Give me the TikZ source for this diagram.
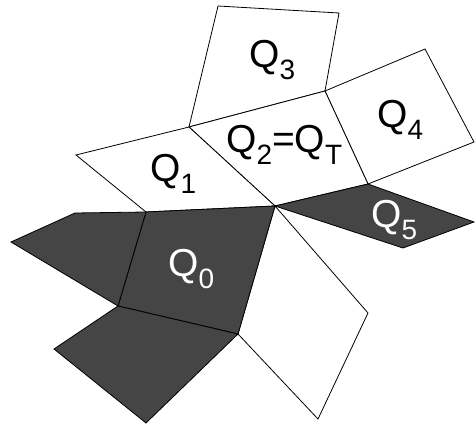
\documentclass[tikz,border=0pt]{standalone}
\usepackage{fontspec}
\setmainfont{Liberation Sans}
\usetikzlibrary{positioning}
\definecolor{qdark}{gray}{0.27}
\newcommand{\qname}[1]{Q\raisebox{-0.3em}{\fontsize{28}{28}\selectfont #1}}
\tikzset{
  face/.style={draw=black,line width=0.8pt,line join=miter},
  dark face/.style={face,fill=qdark},
  white face/.style={face,fill=white},
  face label/.style={anchor=base west,inner sep=0pt,font=\fontsize{39}{44}\selectfont},
  dark label/.style={face label,text=white},
}
\begin{document}
\begin{tikzpicture}[x=1pt,y=-1pt]
  \useasboundingbox (0,0) rectangle (475,425);
  \coordinate (c) at (275,206);
  \coordinate (p1) at (189,127);
  \coordinate (p2) at (218,6);
  \coordinate (p3) at (339,13);
  \coordinate (p4) at (325,91);
  \coordinate (p5) at (425,49);
  \coordinate (p6) at (474,142);
  \coordinate (p7) at (368,184);
  \coordinate (p8) at (76,155);
  \coordinate (p9) at (146,212);
  \coordinate (p10) at (238,334);
  \coordinate (p11) at (118,306);
  \coordinate (p12) at (11,242);
  \coordinate (p13) at (75,213);
  \coordinate (p14) at (146,423);
  \coordinate (p15) at (54,349);
  \coordinate (p16) at (474,222);
  \coordinate (p17) at (403,248);
  \coordinate (p18) at (368,313);
  \coordinate (p19) at (318,419);
  % white faces
  \draw[white face] (p1) -- (p2) -- (p3) -- (p4) -- cycle;
  \draw[white face] (p4) -- (p5) -- (p6) -- (p7) -- cycle;
  \draw[white face] (p1) -- (p4) -- (p7) -- (c) -- cycle;
  \draw[white face] (p8) -- (p1) -- (c) -- (p9) -- cycle;
  \draw[white face] (c) -- (p18) -- (p19) -- (p10) -- cycle;
  % dark faces
  \draw[dark face] (p9) -- (c) -- (p10) -- (p11) -- cycle;
  \draw[dark face] (p12) -- (p13) -- (p9) -- (p11) -- cycle;
  \draw[dark face] (p11) -- (p10) -- (p14) -- (p15) -- cycle;
  \draw[dark face] (c) -- (p7) -- (p16) -- (p17) -- cycle;
  % labels
  \node[face label] (lq3) at (249,68) {\qname{3}};
  \node[face label] (lq4) at (377,128) {\qname{4}};
  \node[face label] (lq2) at (226,153) {\qname{2}=\qname{T}};
  \node[face label] (lq1) at (150,182) {\qname{1}};
  \node[dark label] (lq0) at (168,277) {\qname{0}};
  \node[dark label] (lq5) at (371,228) {\qname{5}};
\end{tikzpicture}
\end{document}
